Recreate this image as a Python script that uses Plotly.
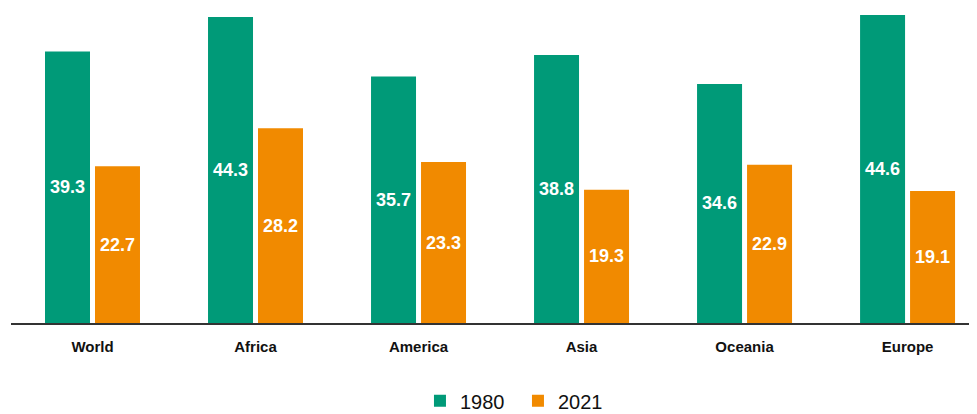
import plotly.graph_objects as go

# data
regions = ["World", "Africa", "America", "Asia", "Oceania", "Europe"]
values_1980 = [39.3, 44.3, 35.7, 38.8, 34.6, 44.6]
values_2021 = [22.7, 28.2, 23.3, 19.3, 22.9, 19.1]

green = "#009a78"
orange = "#f18a00"
font_family = "Liberation Sans, Arial, Helvetica, sans-serif"

bar_w = 0.276

fig = go.Figure()
fig.add_trace(go.Bar(
    x=regions, y=values_1980, name="1980",
    marker=dict(color=green, line=dict(width=0)),
    width=bar_w, offset=-0.2914,
    text=[f"{v:.1f}" for v in values_1980],
    textposition="inside", insidetextanchor="middle",
    textfont=dict(color="white", size=18, family=font_family, weight="bold"),
    textangle=0,
))
fig.add_trace(go.Bar(
    x=regions, y=values_2021, name="2021",
    marker=dict(color=orange, line=dict(width=0)),
    width=bar_w, offset=0.0153,
    text=[f"{v:.1f}" for v in values_2021],
    textposition="inside", insidetextanchor="middle",
    textfont=dict(color="white", size=18, family=font_family, weight="bold"),
    textangle=0,
))

# page body adds 8px offset, so the layout is shifted up/left by 8px
fig.update_layout(
    width=977, height=414,
    margin=dict(l=3, r=0, t=0, b=99, autoexpand=False),
    plot_bgcolor="white", paper_bgcolor="white",
    barmode="group",
    font=dict(family=font_family, color="#111111"),
    showlegend=True,
    legend=dict(
        orientation="h", x=0.5205, xanchor="center", y=-0.247, yanchor="middle",
        font=dict(size=20, family=font_family),
        itemwidth=30, traceorder="normal", entrywidth=53,
    ),
    xaxis=dict(
        range=[-0.5, 5.475], showgrid=False, showline=True,
        linecolor="#333333", linewidth=1.5, ticks="",
        tickfont=dict(size=15, family=font_family, weight="bold", color="#111111"),
        ticklabelstandoff=9, automargin=False,
    ),
    yaxis=dict(
        range=[0, 45.6], showgrid=False, showticklabels=False,
        zeroline=False, showline=False, automargin=False,
    ),
)

fig.write_html("out.html")
